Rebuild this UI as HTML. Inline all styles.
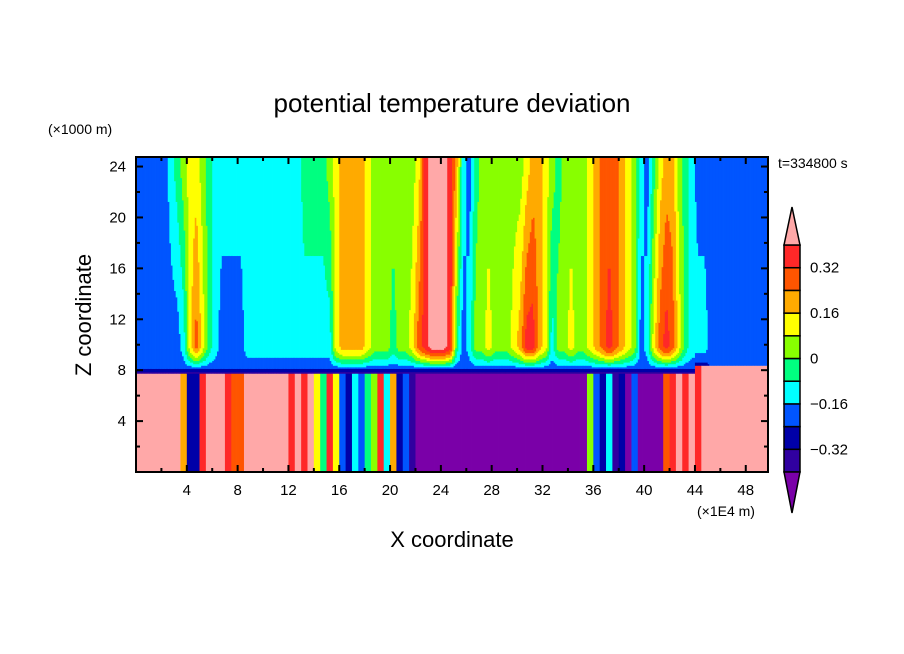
<!DOCTYPE html>
<html><head><meta charset="utf-8"><style>
body{margin:0;background:#fff;}
svg{display:block;font-family:"Liberation Sans",sans-serif;}
</style></head><body>
<svg id="chart" width="904" height="654" viewBox="0 0 904 654">
<rect x="0" y="0" width="904" height="654" fill="#fff"/>
<text x="452" y="112" font-size="26" text-anchor="middle">potential temperature deviation</text>
<text x="48" y="134" font-size="14">(×1000 m)</text>
<text x="778" y="168" font-size="14">t=334800 s</text>
<text x="91" y="315" font-size="22" text-anchor="middle" transform="rotate(-90 91 315)">Z coordinate</text>
<text x="452" y="547" font-size="22" text-anchor="middle">X coordinate</text>
<text x="697" y="516" font-size="14">(×1E4 m)</text>
<g id="field"></g>
<g id="axes"></g>
<g id="cbar"></g>
</svg>
<script>
// data: values per 0.5-unit x column (x in 1E4 m)
const upperTop = [-0.2,-0.2,-0.2,-0.2,-0.2,-0.12,-0.04,0.04,0.12,0.12,
 0.04,-0.04,-0.12,-0.12,-0.12,-0.12,-0.12,-0.12,-0.12,-0.12,
 -0.12,-0.12,-0.12,-0.12,-0.12,-0.12,-0.04,-0.04,-0.04,-0.04,
 0.04,0.12,0.2,0.2,0.2,0.2,0.12,0.04,0.04,0.04,
 0.04,0.04,0.04,0.04,0.12,0.36,0.45,0.45,0.45,0.36,
 0.2,-0.12,-0.2,-0.04,0.04,0.04,0.04,0.04,0.04,0.04,
 0.04,0.12,0.2,0.2,0.12,0.04,-0.04,0.04,0.04,0.04,
 0.04,0.12,0.2,0.28,0.28,0.28,0.2,0.12,0.04,-0.12,
 -0.2,-0.04,0.12,0.2,0.2,0.04,-0.04,-0.12,-0.2,-0.2,
 -0.2,-0.2,-0.2,-0.2,-0.2,-0.2,-0.2,-0.2,-0.2,-0.2];
const upperLow = [-0.2,-0.2,-0.2,-0.2,-0.2,-0.2,-0.2,-0.12,0.12,0.28,
 0.12,-0.04,-0.12,-0.2,-0.2,-0.2,-0.2,-0.12,-0.12,-0.12,
 -0.12,-0.12,-0.12,-0.12,-0.12,-0.12,-0.12,-0.12,-0.12,-0.12,
 -0.12,0.12,0.2,0.2,0.2,0.2,0.12,0.04,0.04,0.04,
 -0.04,0.04,0.04,0.12,0.28,0.36,0.45,0.45,0.45,0.36,
 -0.04,-0.2,-0.12,0.04,0.04,0.12,0.04,0.04,0.04,0.12,
 0.2,0.36,0.36,0.2,0.12,-0.12,0.04,0.04,0.12,0.04,
 0.04,0.12,0.2,0.28,0.36,0.28,0.2,0.12,0.04,-0.2,
 -0.12,0.12,0.28,0.36,0.28,0.12,-0.04,-0.12,-0.12,-0.12,
 -0.2,-0.2,-0.2,-0.2,-0.2,-0.2,-0.2,-0.2,-0.2,-0.2];
const lowVals = [0.45,0.45,0.45,0.45,0.45,0.45,0.45,0.2,-0.28,-0.28,
 0.36,0.45,0.45,0.45,0.36,0.28,0.28,0.45,0.45,0.45,
 0.45,0.45,0.45,0.45,0.36,0.45,0.36,0.45,0.12,-0.04,
 0.36,0.12,-0.2,-0.28,-0.12,-0.2,-0.04,0.04,0.36,-0.12,
 0.2,-0.28,-0.2,-0.36,-0.45,-0.45,-0.45,-0.45,-0.45,-0.45,
 -0.45,-0.45,-0.45,-0.45,-0.45,-0.45,-0.45,-0.45,-0.45,-0.45,
 -0.45,-0.45,-0.45,-0.45,-0.45,-0.45,-0.45,-0.45,-0.45,-0.45,
 -0.45,0.04,-0.2,-0.28,-0.12,-0.36,-0.28,-0.45,-0.2,-0.45,
 -0.45,-0.45,-0.45,0.28,0.36,0.45,0.36,0.45,0.36,0.45,
 0.45,0.45,0.45,0.45,0.45,0.45,0.45,0.45,0.45,0.45];
const levels = [-0.4,-0.32,-0.24,-0.16,-0.08,0,0.08,0.16,0.24,0.32,0.4];
const cbLabels = ["0.32","0.16","0","\u22120.16","\u22120.32"];
const cbLabelVals = [0.32,0.16,0,-0.16,-0.32];
const xTicks = [4,8,12,16,20,24,28,32,36,40,44,48];
const yTicks = [4,8,12,16,20,24];

const colors = ["#7a00a8","#3000a0","#0000a8","#0055ff","#00ffff","#00ff80","#88ff00","#ffff00","#ffaa00","#ff5500","#ff2828","#ffa8a8"];
const X0=136,X1=768,Y0=157,Y1=472, XMAX=49.75, ZMAX=24.75, COLW=0.5;
const sx = x => X0 + x/XMAX*(X1-X0);
const sz = z => Y1 - z/ZMAX*(Y1-Y0);
function lvl(v){let k=0;while(k<levels.length&&v>=levels[k])k++;return k;}
const NS="http://www.w3.org/2000/svg";
function mk(tag,attrs,parent){const e=document.createElementNS(NS,tag);for(const k in attrs)e.setAttribute(k,attrs[k]);parent.appendChild(e);return e;}
function interp(arr,x){
  const f=x/COLW-0.5;
  const i0=Math.max(0,Math.min(arr.length-1,Math.floor(f)));
  const i1=Math.min(arr.length-1,i0+1);
  const t=Math.max(0,Math.min(1,f-i0));
  return arr[i0]+(arr[i1]-arr[i0])*t;
}
function valueAt(x,z){
  const i=Math.min(lowVals.length-1,Math.floor(x/COLW));
  const bnd = x>=44 ? 8.4 : 7.7;
  if(z<bnd) return lowVals[i];
  if(z<bnd+0.4 && x<44) return (z<bnd+0.2)?-0.36:-0.28;
  const lo=interp(upperLow,x), tp=interp(upperTop,x);
  if(z>=10){const t=Math.min(1,(z-10)/14);return lo+(tp-lo)*t;}
  const f=Math.pow(Math.max(0,(10-z)/(10-bnd-0.4)),1.5);
  return lo+(-0.22-lo)*f;
}
const field=document.getElementById('field');
const dz=0.125, SUB=4, sw=COLW/SUB;
for(let j=0;j*sw<XMAX;j++){
  const xa=j*sw, xb=Math.min(XMAX,(j+1)*sw), xc=(xa+xb)/2;
  let start=0,cur=lvl(valueAt(xc,0.01));
  const flush=(zEnd)=>{
    const r=mk('rect',{x:sx(xa).toFixed(2),y:sz(zEnd).toFixed(2),width:(sx(xb)-sx(xa)+0.4).toFixed(2),height:(sz(start)-sz(zEnd)+0.4).toFixed(2),fill:colors[cur]},field);
    
    
  };
  for(let z=dz;z<ZMAX;z+=dz){
    const k=lvl(valueAt(xc,z+dz/2));
    if(k!==cur){flush(z);start=z;cur=k;}
  }
  flush(ZMAX);
}
// axes frame and ticks
const axes=document.getElementById('axes');
const fr=mk('rect',{x:X0,y:Y0,width:X1-X0,height:Y1-Y0,fill:'none',stroke:'#000','stroke-width':2},axes);


for(let x=2;x<XMAX;x+=2){
  const maj=x%4===0, L=maj?7:4, px=sx(x);
  mk('line',{x1:px,y1:Y1,x2:px,y2:Y1-L,stroke:'#000','stroke-width':2},axes);
  mk('line',{x1:px,y1:Y0,x2:px,y2:Y0+L,stroke:'#000','stroke-width':2},axes);
}
for(let z=2;z<ZMAX;z+=2){
  const maj=z%4===0, L=maj?7:4, py=sz(z);
  mk('line',{x1:X0,y1:py,x2:X0+L,y2:py,stroke:'#000','stroke-width':2},axes);
  mk('line',{x1:X1,y1:py,x2:X1-L,y2:py,stroke:'#000','stroke-width':2},axes);
}
xTicks.forEach(v=>{
  const t=mk('text',{x:sx(v),y:495,'font-size':15,'text-anchor':'middle'},axes);
  t.textContent=v;
  
  
});
yTicks.forEach(v=>{
  const t=mk('text',{x:126,y:sz(v)+5,'font-size':15,'text-anchor':'end'},axes);
  t.textContent=v;
  
  
});
// colorbar
const cb=document.getElementById('cbar');
const CX0=784,CX1=800,CT=245,CB=472;
const cy=v=>CB-(v-levels[0])/(levels[levels.length-1]-levels[0])*(CB-CT);
for(let k=1;k<levels.length;k++){
  const r=mk('rect',{x:CX0,y:cy(levels[k]),width:CX1-CX0,height:cy(levels[k-1])-cy(levels[k]),fill:colors[k],stroke:'#000','stroke-width':1.5},cb);
  
  
}
const tu=mk('polygon',{points:`${CX0},${CT} ${CX1},${CT} ${(CX0+CX1)/2},207`,fill:colors[11],stroke:'#000','stroke-width':1.5},cb);


const td=mk('polygon',{points:`${CX0},${CB} ${CX1},${CB} ${(CX0+CX1)/2},513`,fill:colors[0],stroke:'#000','stroke-width':1.5},cb);


cbLabels.forEach((s,j)=>{
  const t=mk('text',{x:810,y:cy(cbLabelVals[j])+5,'font-size':15},cb);
  t.textContent=s;
  
  
});
</script>
</body></html>
